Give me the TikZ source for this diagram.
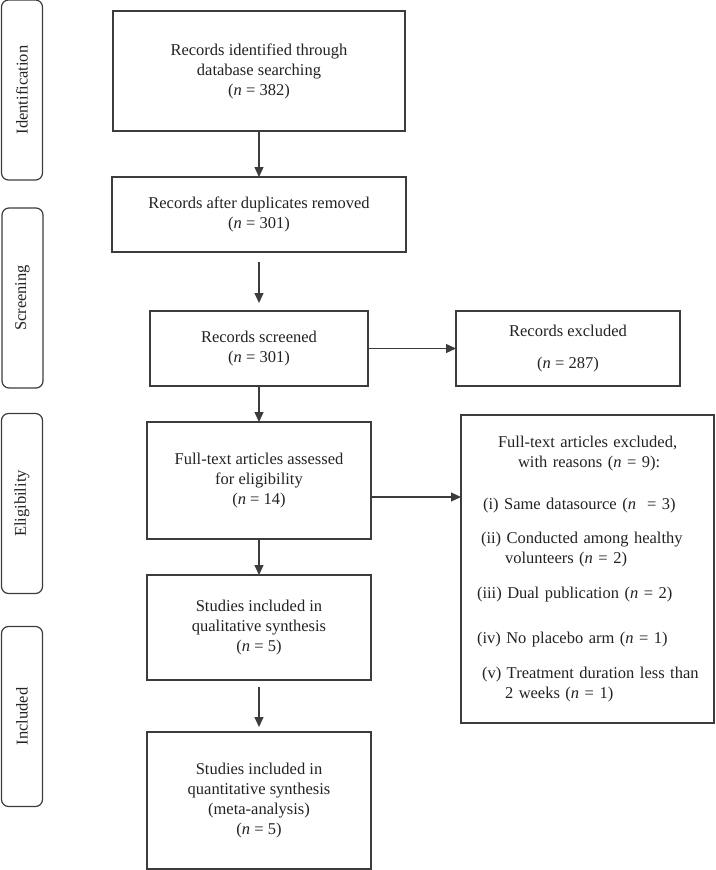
\documentclass[tikz,border=0pt]{standalone}
\usepackage{fontspec}
\setmainfont{Liberation Serif}
\usepackage{tikz}
\usetikzlibrary{positioning, arrows.meta}
\definecolor{linegray}{HTML}{3C3C3C}
\definecolor{textgray}{HTML}{222222}
\tikzset{
		flow box/.style={
			rectangle,
			draw=linegray,
			line width=1.2pt,
			align=center,
			text=textgray,
			font=\fontsize{16.5}{20}\selectfont,
			inner sep=0pt,
			outer sep=0pt
		},
		phase/.style={
			rectangle,
			rounded corners=7pt,
			draw=linegray,
			line width=1.2pt,
			rotate=90,
			minimum width=180pt,
			minimum height=41pt,
			text=textgray,
			font=\fontsize{16.5}{20}\selectfont,
			inner sep=0pt
		},
		link/.style={
			draw=linegray,
			line width=1.3pt,
			-{Triangle[length=10pt,width=9pt]}
		}
	}
\begin{document}
\begin{tikzpicture}[x=1pt, y=-1pt]
			\useasboundingbox (0,0) rectangle (715,870);
			% stages on the left
			\node [phase] (identification) at (22,90) {Identification};
			\node [phase] (screening) at (22.5,298) {Screening};
			\node [phase] (eligibility) at (22,503.5) {Eligibility};
			\node [phase] (included) at (22,716.5) {Included};
			% main column
			\node [flow box, minimum width=292pt, minimum height=120pt] (ident) at (259,71)
				{Records identified through\\database searching\\(\textit{n} = 382)};
			\node [flow box, minimum width=294pt, minimum height=75pt] (dupl) at (259,214.5)
				{Records after duplicates removed\\(\textit{n} = 301)};
			\node [flow box, minimum width=218pt, minimum height=75pt] (screen) at (259,348.5)
				{Records screened\\(\textit{n} = 301)};
			\node [flow box, minimum width=224pt, minimum height=117pt] (full) at (259,480.5)
				{Full-text articles assessed\\for eligibility\\(\textit{n} = 14)};
			\node [flow box, minimum width=224pt, minimum height=105pt] (qual) at (259,627.5)
				{Studies included in\\qualitative synthesis\\(\textit{n} = 5)};
			\node [flow box, minimum width=224pt, minimum height=137pt] (quant) at (259,800.5)
				{Studies included in\\quantitative synthesis\\(meta-analysis)\\(\textit{n} = 5)};
			% exclusions
			\node [flow box, minimum width=224pt, minimum height=75pt] (excl) at (568,348.5)
				{Records excluded\\[12pt](\textit{n} = 287)};
			\node [flow box, align=left, text width=253pt, minimum height=308pt] (reasons) at (587.5,569)
				{\hspace*{37pt}Full-text articles excluded,\\
				 \hspace*{57pt}with reasons (\textit{n} = 9):\\[22pt]
				 \hspace*{22pt}(i) Same datasource (\textit{n}\ \ = 3)\\[14pt]
				 \hspace*{20pt}(ii) Conducted among healthy\\
				 \hspace*{44pt}volunteers (\textit{n} = 2)\\[15pt]
				 \hspace*{16pt}(iii) Dual publication (\textit{n} = 2)\\[25pt]
				 \hspace*{16pt}(iv) No placebo arm (\textit{n} = 1)\\[15pt]
				 \hspace*{21pt}(v) Treatment duration less than\\
				 \hspace*{44pt}2 weeks (\textit{n} = 1)};
			\draw [link] (ident) -- (dupl);
			\draw [link, shorten <=10pt, shorten >=8pt] (dupl) -- (screen);
			\draw [link] (screen.east) -- (screen.east -| excl.west);
			\draw [link] (screen) -- (full);
			\coordinate (f) at ([yshift=-16.5pt]full.east);
			\draw [link] (f) -- (f -| reasons.west);
			\draw [link] (full) -- (qual);
			\draw [link, shorten <=7pt, shorten >=5pt] (qual) -- (quant);
		\end{tikzpicture}
\end{document}
